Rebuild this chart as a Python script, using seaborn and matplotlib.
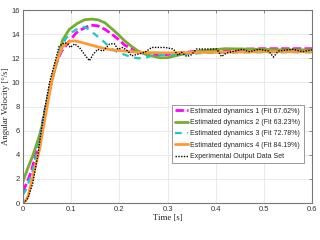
import matplotlib
matplotlib.use('Agg')
import matplotlib.pyplot as plt
import seaborn as sns

# Данные
t_est1 = [0, 0.01, 0.017, 0.03, 0.045, 0.058, 0.068, 0.08, 0.096, 0.11, 0.124, 0.14, 0.155,
          0.17, 0.183, 0.197, 0.211, 0.225, 0.239, 0.253, 0.267, 0.28, 0.295, 0.32, 0.35,
          0.4, 0.45, 0.5, 0.55, 0.6]
y_est1 = [0.95, 1.9, 2.6, 4.6, 7.6, 9.9, 11.5, 12.6, 13.4, 14.1, 14.45, 14.75, 14.7,
          14.4, 14.05, 13.6, 13.1, 12.8, 12.55, 12.4, 12.3, 12.3, 12.3, 12.4, 12.55,
          12.65, 12.75, 12.8, 12.8, 12.8]

t_est2 = [0, 0.01, 0.02, 0.0375, 0.05, 0.06, 0.069, 0.082, 0.096, 0.113, 0.128, 0.142,
          0.155, 0.17, 0.183, 0.197, 0.211, 0.225, 0.239, 0.253, 0.267, 0.284, 0.3, 0.326,
          0.368, 0.42, 0.48, 0.54, 0.6]
y_est2 = [1.8, 2.9, 3.9, 6.0, 8.4, 10.2, 11.5, 13.5, 14.4, 14.9, 15.2, 15.25,
          15.2, 14.95, 14.5, 14.0, 13.45, 13.0, 12.6, 12.35, 12.2, 12.05, 12.05, 12.3,
          12.6, 12.8, 12.75, 12.7, 12.7]

t_est3 = [0, 0.006, 0.02, 0.03, 0.045, 0.058, 0.068, 0.078, 0.089, 0.103, 0.117, 0.128,
          0.14, 0.155, 0.17, 0.183, 0.197, 0.211, 0.225, 0.239, 0.253, 0.267, 0.295, 0.33,
          0.38, 0.45, 0.52, 0.6]
y_est3 = [0.7, 1.1, 2.7, 4.4, 7.6, 10.0, 11.6, 12.8, 13.65, 14.2, 14.55, 14.6,
          14.3, 13.8, 13.3, 12.8, 12.5, 12.3, 12.1, 12.0, 12.05, 12.2, 12.3, 12.35,
          12.45, 12.5, 12.5, 12.5]

t_est4 = [0, 0.005, 0.01, 0.0235, 0.034, 0.041, 0.05, 0.06, 0.069, 0.082, 0.096, 0.105,
          0.113, 0.128, 0.155, 0.183, 0.211, 0.239, 0.295, 0.4, 0.5, 0.6]
y_est4 = [0.0, 0.2, 0.5, 2.7, 4.4, 6.0, 8.0, 10.2, 11.7, 12.95, 13.4, 13.45,
          13.4, 13.25, 12.95, 12.7, 12.6, 12.5, 12.45, 12.5, 12.55, 12.55]

t_exp = [0, 0.003, 0.01, 0.02, 0.03, 0.0375, 0.045, 0.055, 0.065, 0.075, 0.086, 0.093,
         0.098, 0.107, 0.117, 0.128, 0.138, 0.145, 0.155, 0.166, 0.173, 0.18, 0.19, 0.197,
         0.207, 0.218, 0.225, 0.239, 0.253, 0.267, 0.295, 0.312, 0.322, 0.329, 0.34, 0.35,
         0.36, 0.402, 0.412, 0.423, 0.44, 0.455, 0.47, 0.49, 0.51, 0.52, 0.53, 0.56, 0.58, 0.6]
y_exp = [0, 0.05, 0.4, 1.6, 3.8, 5.9, 7.8, 10.0, 11.5, 13.0, 13.3, 13.2,
         12.9, 13.2, 12.9, 12.3, 11.8, 12.3, 12.75, 12.6, 12.9, 13.2, 13.2, 12.75,
         12.9, 12.6, 12.2, 12.35, 12.5, 12.9, 12.9, 12.77, 12.25, 12.5, 12.15, 12.3,
         12.77, 12.77, 12.15, 12.45, 12.6, 12.75, 12.55, 12.75, 12.6, 12.1, 12.6, 12.75, 12.55, 12.7]

labels = ['Estimated dynamics 1 (Fit 67.62%)',
          'Estimated dynamics 2 (Fit 63.23%)',
          'Estimated dynamics 3 (Fit 72.78%)',
          'Estimated dynamics 4 (Fit 84.19%)',
          'Experimental Output Data Set']

sns.set_style('whitegrid')
plt.rcParams['font.family'] = ['Liberation Sans', 'DejaVu Sans']

fig = plt.figure(figsize=(3.2, 2.4), dpi=100)
ax = fig.add_axes([0.072, 0.154, 0.903, 0.804])

sns.lineplot(x=t_est1, y=y_est1, ax=ax, color='#ff00ff', lw=2.0,
             linestyle=(0, (3, 1.2)), label=labels[0], sort=False, estimator=None)
sns.lineplot(x=t_est2, y=y_est2, ax=ax, color='#77ac30', lw=2.0,
             label=labels[1], sort=False, estimator=None)
sns.lineplot(x=t_est3, y=y_est3, ax=ax, color='#1cc7c7', lw=1.6,
             linestyle=(0, (3, 2.5)), label=labels[2], sort=False, estimator=None)
sns.lineplot(x=t_est4, y=y_est4, ax=ax, color='#ff9933', lw=2.0,
             label=labels[3], sort=False, estimator=None)
sns.lineplot(x=t_exp, y=y_exp, ax=ax, color='black', lw=1.0,
             linestyle=(0, (1, 1)), label=labels[4], sort=False, estimator=None)

ax.set_xlim(0, 0.6)
ax.set_ylim(0, 16)
ax.set_xticks([0, 0.1, 0.2, 0.3, 0.4, 0.5, 0.6])
ax.set_xticklabels(['0', '0.1', '0.2', '0.3', '0.4', '0.5', '0.6'])
ax.set_yticks(range(0, 17, 2))
ax.grid(True, color='#e6e6e6', lw=0.6)
for s in ax.spines.values():
    s.set_color('#777777')
    s.set_linewidth(0.8)
ax.tick_params(direction='in', length=2.5, width=0.6, color='#777777',
               labelsize=5.5, labelcolor='#333333', top=True, right=True, pad=2)

ax.set_xlabel('Time [s]', family='Liberation Serif', fontsize=6.3, labelpad=1, color='#222222')
ax.set_ylabel('Angular Velocity [°/s]', family='Liberation Serif', fontsize=6.3,
              labelpad=1, color='#222222')

leg = ax.legend(loc='upper left', bbox_to_anchor=(0.515, 0.51), fontsize=5,
                frameon=True, fancybox=False, edgecolor='#888888', framealpha=1,
                handlelength=1.9, handletextpad=0.3, labelspacing=0.62,
                borderpad=0.45, borderaxespad=0)
leg.get_frame().set_linewidth(0.6)

fig.savefig('out.png', dpi=100)
plt.close()
